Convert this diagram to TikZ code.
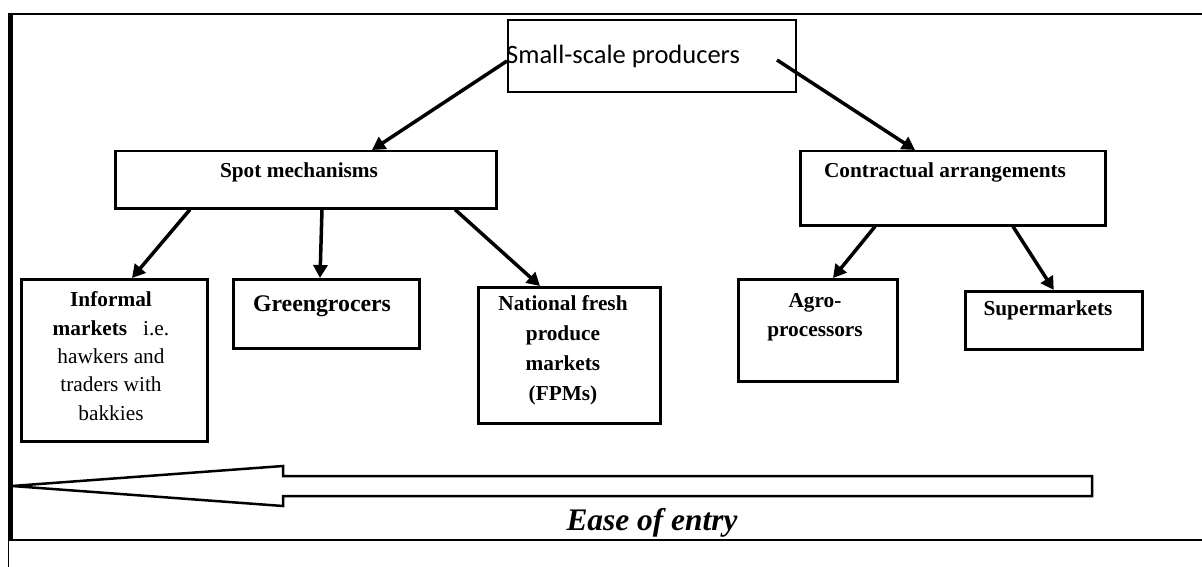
\documentclass[tikz,border=0pt]{standalone}
\usepackage{fontspec}
\setmainfont{Liberation Serif}
\newfontfamily\calibri{Carlito}
\usetikzlibrary{arrows.meta}

\begin{document}
\begin{tikzpicture}[x=1pt,y=-1pt,
	box/.style={draw=black, line width=2.5pt, anchor=north west, inner sep=0pt},
	txt/.style={anchor=base, align=center, inner sep=0pt, font=\fontsize{21.3}{28.3}\selectfont},
	arr/.style={line width=3.5pt, -{Triangle[length=13pt,width=14pt]}}]

	\useasboundingbox (0,0) rectangle (1202,567);

	% frame
	\draw[line width=1.5pt](8,14)--(1202,14);
	\draw[line width=1.5pt](8,540)--(1202,540);
	\draw[line width=3.5pt](11,14)--(11,540);
	\draw[line width=1pt](8,14)--(8,567);

	% boxes
	\node[box, line width=2pt, minimum width=288pt, minimum height=72pt] (prod) at (507,19) {};
	\node[box, minimum width=381pt, minimum height=57pt] (spot) at (114,150) {};
	\node[box, minimum width=305pt, minimum height=74pt] (contract) at (799,150) {};
	\node[box, minimum width=186pt, minimum height=162pt] (informal) at (20,278) {};
	\node[box, minimum width=186pt, minimum height=69pt] (green) at (232,278) {};
	\node[box, minimum width=182pt, minimum height=136pt] (fpm) at (477,286) {};
	\node[box, minimum width=159pt, minimum height=102pt] (agro) at (737,278) {};
	\node[box, minimum width=177pt, minimum height=58pt] (super) at (964,290) {};

	% texts (multi-line ones sit on their last line)
	\node[txt, anchor=base west, font=\calibri\fontsize{26.5}{30}\selectfont] (prod-txt) at (506,64) {Small-scale producers};
	\node[txt, font=\fontsize{21.3}{29}\selectfont\bfseries] (spot-txt) at (299,178) {Spot mechanisms};
	\node[txt, font=\fontsize{21.3}{29}\selectfont\bfseries] (contract-txt) at (945,178) {Contractual arrangements};
	\node[txt] (informal-txt) at (111,420) {\textbf{Informal}\\\textbf{markets}\hspace{0.5em} i.e.\\hawkers and\\traders with\\bakkies};
	\node[txt, font=\fontsize{23.8}{29}\selectfont\bfseries] (green-txt) at (322,311) {Greengrocers};
	\node[txt, font=\fontsize{21.3}{29.7}\selectfont\bfseries] (fpm-txt) at (563,400) {National fresh\\produce\\markets\\(FPMs)};
	\node[txt, font=\fontsize{21.3}{29}\selectfont\bfseries] (agro-txt) at (815,336) {Agro-\\processors};
	\node[txt, font=\fontsize{21.3}{29}\selectfont\bfseries] (super-txt) at (1048,315) {Supermarkets};

	% arrows
	\draw[arr]([yshift=-5pt]prod.west)--([xshift=258pt]spot.north west);
	\draw[arr]([xshift=-20pt,yshift=-4pt]prod.east)--([xshift=116pt]contract.north west);
	\draw[arr]([xshift=76pt]spot.south west)--([xshift=112pt]informal.north west);
	\draw[arr]([xshift=208pt]spot.south west)--([xshift=88pt]green.north west);
	\draw[arr]([xshift=341pt]spot.south west)--([xshift=63pt]fpm.north west);
	\draw[arr]([xshift=76pt]contract.south west)--([xshift=96pt]agro.north west);
	\draw[arr]([xshift=214pt]contract.south west)--(super.north);

	% ease of entry
	\draw[line width=2.5pt, line join=miter](12,486)--(283,466)--(283,476)--(1092,476)--(1092,496)--(283,496)--(283,506)--cycle;
	\node[txt, font=\fontsize{31.4}{36}\selectfont\bfseries\itshape] (ease) at (652,530) {Ease of entry};
\end{tikzpicture}
\end{document}
